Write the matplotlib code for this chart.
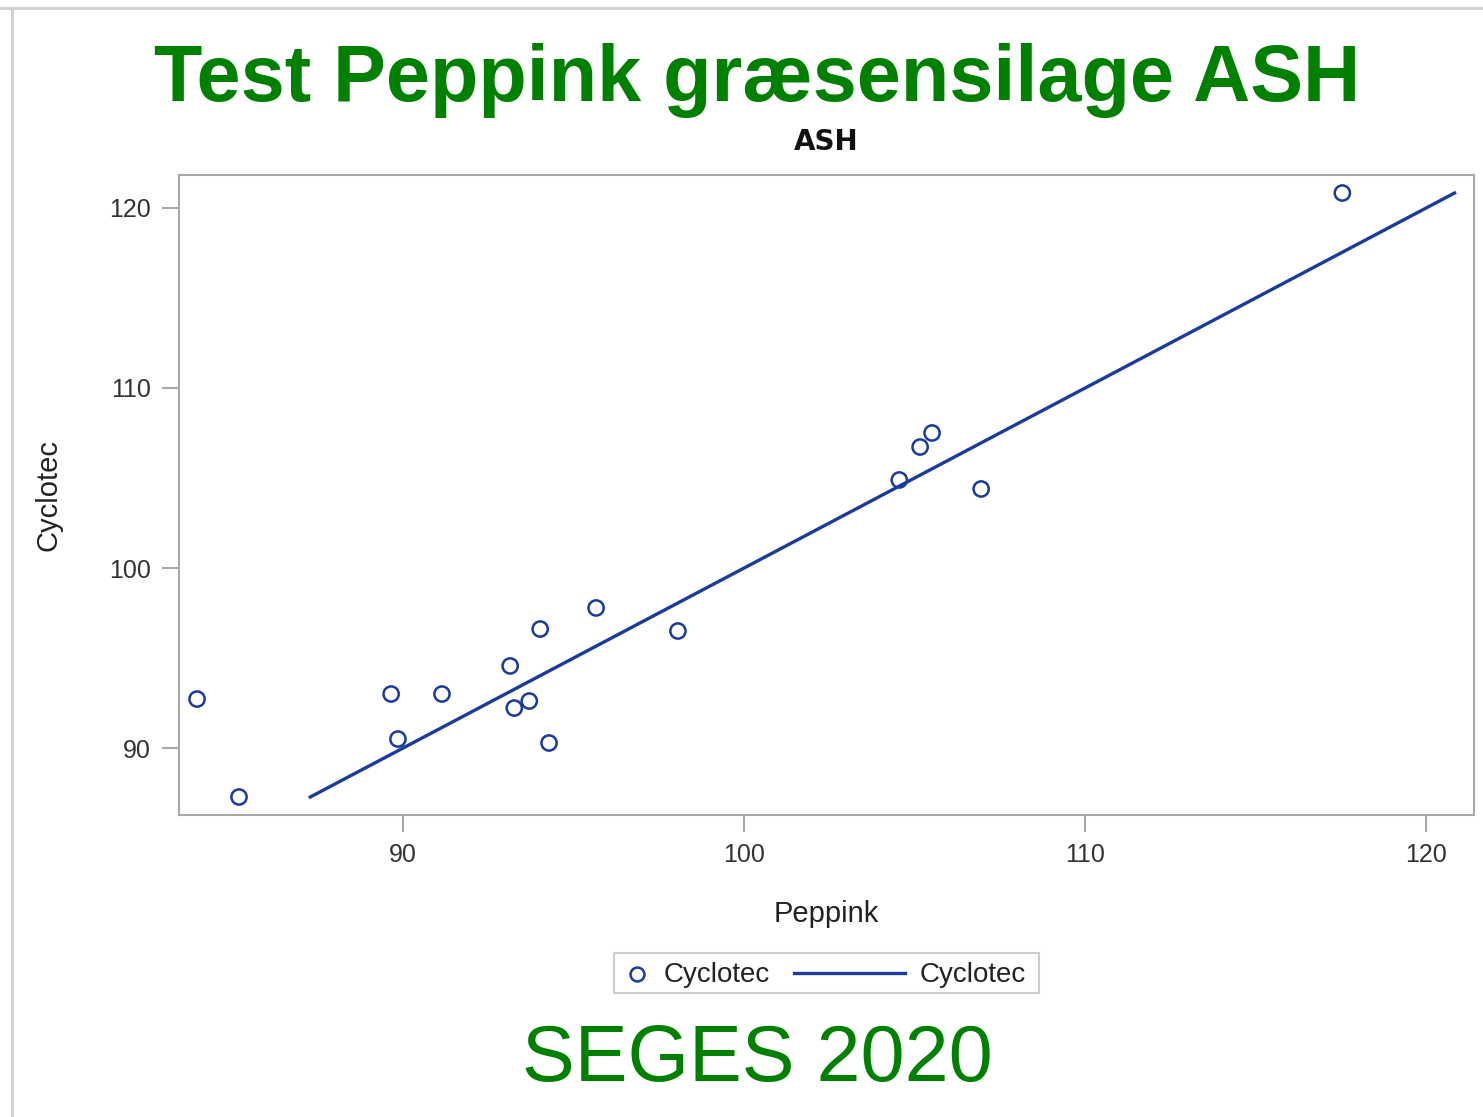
import matplotlib
matplotlib.use("Agg")
import matplotlib.pyplot as plt
from matplotlib.lines import Line2D
from matplotlib.patches import Rectangle
import numpy as np

# Data
peppink = [83.96, 85.19, 89.65, 89.85, 91.14, 93.14, 93.26, 93.70, 94.02,
           94.28, 95.66, 98.06, 104.55, 105.16, 105.51, 106.95, 117.54]
cyclotec = [92.72, 87.28, 93.0, 90.5, 93.0, 94.56, 92.22, 92.61, 96.61,
            90.28, 97.78, 96.5, 104.89, 106.72, 107.5, 104.39, 120.83]

x_ticks = [90, 100, 110, 120]
y_ticks = [90, 100, 110, 120]

blue = "#1a3a9c"
green = "#008000"
gray = "#a8a8a8"

plt.rcParams['font.family'] = ['Liberation Sans', 'DejaVu Sans']

W, H = 1483, 1117
fig = plt.figure(figsize=(W / 100, H / 100), dpi=100)
ax = fig.add_axes([179 / W, 1 - 815 / H, (1474 - 179) / W, (815 - 175) / H])

# scatter points
ax.scatter(peppink, cyclotec, s=120, facecolors="none", edgecolors=blue,
           linewidths=1.8, zorder=3)

# line: Cyclotec against itself
line_x = np.sort(cyclotec)
ax.plot(line_x, line_x, color=blue, lw=2.4, zorder=2)

ax.set_xlim(83.43, 121.4)
ax.set_ylim(86.28, 121.83)
ax.set_xticks(x_ticks)
ax.set_yticks(y_ticks)
ax.tick_params(axis="both", length=12, width=1.5, color=gray, labelsize=18,
               labelcolor="#333333", pad=8)
for sp in ax.spines.values():
    sp.set_color(gray)
    sp.set_linewidth(1.5)

ax.set_xlabel("Peppink", fontsize=21, color="#222222", labelpad=24)
ax.set_ylabel("Cyclotec", fontsize=21, color="#222222", labelpad=34)

# titles
fig.text(757 / W, 1 - 80 / H, "Test Peppink græsensilage ASH",
         ha="center", va="center", fontsize=57, fontweight="bold", color=green)
fig.text(826 / W, 1 - 142 / H, "ASH", ha="center", va="center",
         fontsize=20, fontweight="bold", color="#111111",
         family=['DejaVu Sans'])
fig.text(757 / W, 1 - 1060 / H, "SEGES 2020", ha="center", va="center",
         fontsize=57, color=green)

# legend drawn by hand (short marker handle, long line handle)
tf = fig.transFigure
fig.add_artist(Rectangle((614 / W, 1 - 993 / H), (1039 - 614) / W, 40 / H,
                         transform=tf, facecolor="white", edgecolor="#cccccc",
                         lw=1.5))
fig.add_artist(Line2D([637 / W], [1 - 974 / H], transform=tf, marker="o",
                      markersize=10, markerfacecolor="none",
                      markeredgecolor=blue, markeredgewidth=1.8, linestyle="none"))
fig.text(664 / W, 1 - 975 / H, "Cyclotec", ha="left", va="center",
         fontsize=20, color="#222222")
fig.add_artist(Line2D([794 / W, 905 / W], [1 - 973 / H, 1 - 973 / H],
                      transform=tf, color=blue, lw=2.4))
fig.text(920 / W, 1 - 975 / H, "Cyclotec", ha="left", va="center",
         fontsize=20, color="#222222")

# screenshot border
fig.add_artist(Line2D([12 / W, 12 / W], [0, 1 - 8 / H],
                      transform=tf, color="#cfcfcf", lw=2))
fig.add_artist(Line2D([0, 1], [1 - 8 / H, 1 - 8 / H],
                      transform=tf, color="#cfcfcf", lw=2))

fig.savefig("out.png", dpi=100)
